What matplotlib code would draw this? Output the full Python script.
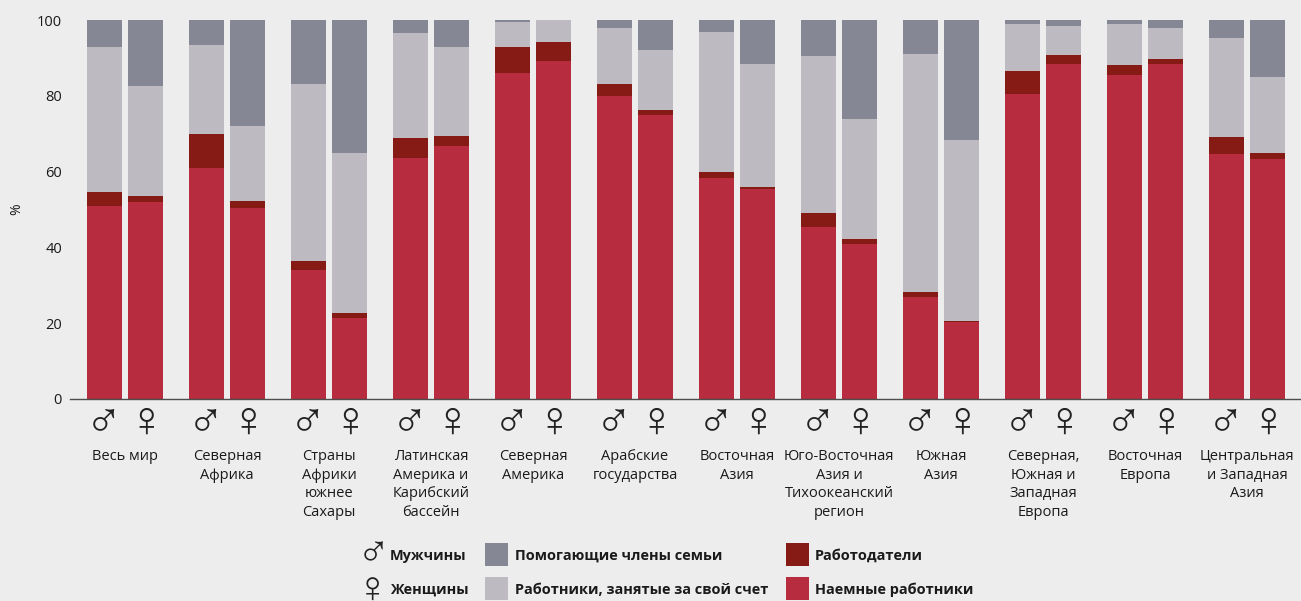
#!/usr/bin/env python3
"""Status in employment by region and sex, stacked bars."""

import numpy as np
import matplotlib
matplotlib.use("Agg")
import matplotlib.pyplot as plt
from matplotlib.patches import Rectangle

W, H = 1301, 601
BG = "#ededed"
C_WAGE = "#b72c3e"
C_EMPL = "#851b14"
C_OWN = "#bdbbc1"
C_FAM = "#858794"
C_TEXT = "#1a1a1a"

plt.rcParams["font.family"] = ["Open Sans", "DejaVu Sans"]

regions = [
    "Весь мир", "Северная\nАфрика", "Страны\nАфрики\nюжнее\nСахары",
    "Латинская\nАмерика и\nКарибский\nбассейн", "Северная\nАмерика",
    "Арабские\nгосударства", "Восточная\nАзия",
    "Юго-Восточная\nАзия и\nТихоокеанский\nрегион", "Южная\nАзия",
    "Северная,\nЮжная и\nЗападная\nЕвропа", "Восточная\nЕвропа",
    "Центральная\nи Западная\nАзия",
]

# shares, %
men_wage = [51.0, 61.0, 34.0, 63.5, 86.0, 80.0, 58.3, 45.5, 27.0, 80.5, 85.5, 64.7]
men_empl = [3.5, 9.0, 2.5, 5.3, 6.8, 3.0, 1.7, 3.5, 1.3, 6.0, 2.5, 4.3]
men_own = [38.5, 23.5, 46.5, 27.7, 6.7, 15.0, 36.8, 41.5, 62.7, 12.5, 11.0, 26.3]
men_fam = [7.0, 6.5, 17.0, 3.5, 0.5, 2.0, 3.2, 9.5, 9.0, 1.0, 1.0, 4.7]

women_wage = [52.0, 50.5, 21.5, 66.7, 89.3, 75.0, 55.5, 41.0, 20.2, 88.3, 88.3, 63.3]
women_empl = [1.5, 1.8, 1.3, 2.6, 4.9, 1.2, 0.5, 1.2, 0.5, 2.4, 1.5, 1.5]
women_own = [29.0, 19.7, 42.2, 23.5, 5.8, 16.0, 32.3, 31.8, 47.6, 7.6, 8.0, 20.2]
women_fam = [17.5, 28.0, 35.0, 7.2, 0.0, 7.8, 11.7, 26.0, 31.7, 1.7, 2.2, 15.0]

yticks = [0, 20, 40, 60, 80, 100]
legend_status = ["Помогающие члены семьи", "Работники, занятые за свой счет",
                 "Работодатели", "Наемные работники"]


def px(x, y):
    """Pixel position in the 1301x601 frame to figure fraction."""
    return x / W, 1 - y / H


fig = plt.figure(figsize=(W / 100, H / 100), dpi=100, facecolor=BG)
ax = fig.add_axes([70 / W, (H - 399) / H, (W - 70) / W, 379 / H], facecolor="none")

# one x unit = one region group = 102 px
ax.set_xlim((70 - 104.5) / 102, (W - 104.5) / 102)
ax.set_ylim(0, 100)
bw = 35 / 102
xi = np.arange(len(regions))

for xs, parts in [(xi, (men_wage, men_empl, men_own, men_fam)),
                  (xi + 41 / 102, (women_wage, women_empl, women_own, women_fam))]:
    bottom = np.zeros(len(regions))
    for vals, c in zip(parts, (C_WAGE, C_EMPL, C_OWN, C_FAM)):
        ax.bar(xs, vals, bw, bottom=bottom, color=c, lw=0, zorder=2)
        bottom += np.array(vals)

for s in ("top", "right", "left"):
    ax.spines[s].set_visible(False)
ax.spines["bottom"].set_color("#4d4d4d")
ax.spines["bottom"].set_linewidth(1.0)
ax.spines["bottom"].set_zorder(3)
ax.set_xticks([])
ax.set_yticks(yticks)
ax.tick_params(axis="y", length=0, pad=5.8, labelsize=10.5, labelcolor=C_TEXT)
fig.text(*px(17, 209), "%", rotation=90, ha="center", va="center",
         fontsize=10, color=C_TEXT)


def sex_glyph(x, y, glyph, size=36):
    fig.text(*px(x, y), glyph, ha="center", va="center", fontsize=size,
             family="Liberation Sans", color="#222222")


for i, name in enumerate(regions):
    cx = 105 + 102 * i
    sex_glyph(cx - 1, 423, "♂")
    sex_glyph(cx + 41, 423, "♀")
    fig.text(*px(cx + 20, 449), name, ha="center", va="top", fontsize=10.5,
             linespacing=1.33, color=C_TEXT)

# legend
sex_glyph(373, 555, "♂", 32)
sex_glyph(372, 590, "♀", 32)
fig.text(*px(390, 556), "Мужчины", ha="left", va="center", fontsize=10.45,
         fontweight="bold", color=C_TEXT)
fig.text(*px(390, 590), "Женщины", ha="left", va="center", fontsize=10.45,
         fontweight="bold", color=C_TEXT)

swatches = [(485, 543, C_FAM, 515), (485, 577, C_OWN, 515),
            (786, 543, C_EMPL, 815), (786, 577, C_WAGE, 815)]
for (x, y, c, tx), label in zip(swatches, legend_status):
    fx, fy = px(x, y + 23)
    fig.add_artist(Rectangle((fx, fy), 23 / W, 23 / H, transform=fig.transFigure,
                             fc=c, lw=0))
    fig.text(*px(tx, y + 12.5), label, ha="left", va="center", fontsize=10.45,
             fontweight="bold", color=C_TEXT)

fig.savefig("out.png", dpi=100, facecolor=BG)
